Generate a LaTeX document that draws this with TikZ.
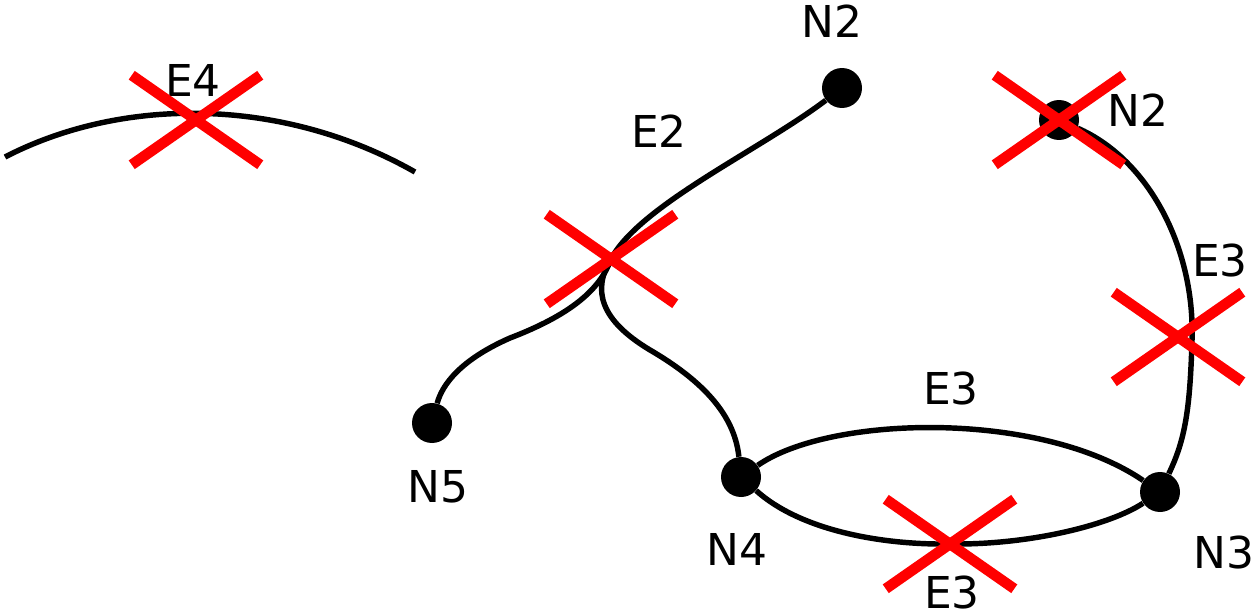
\documentclass[tikz,border=0pt]{standalone}
\usepackage{fontspec}
\setmainfont{DejaVu Sans}
\usetikzlibrary{shapes.misc}

\begin{document}
\begin{tikzpicture}[x=0.02cm, y=-0.02cm, vertex/.style = {circle, fill=black, inner sep=0pt, minimum size=0.8cm}, edge/.style = {line width=3.1pt}, crossmark/.style = {cross out, draw=red, line width=6pt, inner sep=0pt, minimum width=2.36cm, minimum height=1.58cm}, lbl/.style = {inner sep=0pt, font=\fontsize{25}{30}\selectfont}]

    \useasboundingbox (0,0) rectangle (1253,611);

    % nodes
    \node[vertex] (n2a) at (842,88) {};
    \node[vertex] (n2b) at (1059,120) {};
    \node[vertex] (n5) at (432,423) {};
    \node[vertex] (n4) at (741,477) {};
    \node[vertex] (n3) at (1160,492) {};

    % crossing points
    \coordinate (xe4) at (196,120);
    \coordinate (xe2) at (611,259);
    \coordinate (xe3r) at (1178,337);
    \coordinate (xe3b) at (950,544);
    \coordinate (e4a) at (5,157);
    \coordinate (e4b) at (415,172);

    % edges
    \draw[edge] (e4a) .. controls (125,95) and (285,98) .. (e4b);
    \draw[edge] (n2a) .. controls (760,150) and (640,205) .. (xe2) .. controls (600,290) and (570,315) .. (510,338) .. controls (460,360) and (442,385) .. (n5);
    \draw[edge] (xe2) .. controls (592,290) and (600,320) .. (650,350) .. controls (710,385) and (735,420) .. (n4);
    \draw[edge] (n4) .. controls (830,415) and (1040,410) .. (n3);
    \draw[edge] (n4) .. controls (800,530) and (880,545) .. (xe3b) .. controls (1030,545) and (1110,525) .. (n3);
    \draw[edge] (n2b) .. controls (1150,160) and (1195,250) .. (1192,340) .. controls (1190,410) and (1185,440) .. (n3);

    % labels
    \node[lbl] (l-n2a) at (832,21) {N2};
    \node[lbl] (l-n2b) at (1138,110) {N2};
    \node[lbl] (l-n5) at (438,487) {N5};
    \node[lbl] (l-n4) at (737,549) {N4};
    \node[lbl] (l-n3) at (1224,553) {N3};
    \node[lbl] (l-e4) at (193,80) {E4};
    \node[lbl] (l-e2) at (659,131) {E2};
    \node[lbl] (l-e3r) at (1220,261) {E3};
    \node[lbl] (l-e3t) at (951,389) {E3};
    \node[lbl] (l-e3b) at (952,593) {E3};

    % crosses
    \node[crossmark] (c-e4) at (xe4) {};
    \node[crossmark] (c-e2) at (xe2) {};
    \node[crossmark] (c-n2b) at (n2b) {};
    \node[crossmark] (c-e3r) at (xe3r) {};
    \node[crossmark] (c-e3b) at (xe3b) {};

\end{tikzpicture}
\end{document}
